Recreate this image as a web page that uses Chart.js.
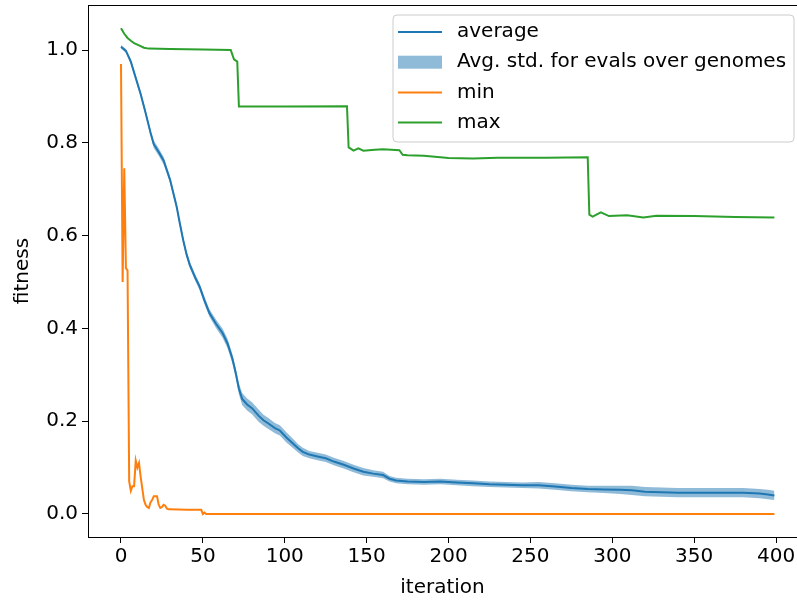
<!DOCTYPE html>
<html>
<head>
<meta charset="utf-8">
<script src="https://cdn.jsdelivr.net/npm/chart.js@4.4.1/dist/chart.umd.min.js"></script>
<style>
  html, body { margin: 0; padding: 0; background: #fff; }
</style>
</head>
<body>
<canvas id="fitness-chart" width="797" height="600"></canvas>
<script>
// average fitness and its std band
const avgIter = [0, 3, 6, 9, 12, 15, 18, 20, 23, 26, 30, 34, 36, 38, 40, 42, 45, 48, 51, 54, 58, 62, 65, 68, 70, 72, 74, 77, 80, 84, 87, 90, 94, 97, 101, 105, 108, 111, 115, 120, 125, 130, 136, 142, 148, 154, 160, 164, 168, 175, 185, 195, 205, 215, 225, 235, 245, 255, 265, 275, 285, 295, 305, 312, 320, 330, 340, 350, 360, 370, 380, 390, 395, 399];
const avgValues = [1.007, 0.998, 0.975, 0.94, 0.905, 0.865, 0.822, 0.797, 0.78, 0.762, 0.72, 0.662, 0.625, 0.59, 0.56, 0.537, 0.512, 0.49, 0.46, 0.433, 0.41, 0.39, 0.368, 0.335, 0.305, 0.27, 0.248, 0.236, 0.228, 0.212, 0.202, 0.195, 0.185, 0.18, 0.165, 0.152, 0.142, 0.134, 0.128, 0.124, 0.12, 0.113, 0.106, 0.098, 0.091, 0.087, 0.084, 0.076, 0.072, 0.07, 0.069, 0.07, 0.068, 0.066, 0.064, 0.063, 0.062, 0.062, 0.059, 0.056, 0.054, 0.053, 0.052, 0.051, 0.048, 0.047, 0.046, 0.046, 0.046, 0.046, 0.046, 0.044, 0.042, 0.04];
const avgStd = [0.004, 0.004, 0.005, 0.005, 0.006, 0.006, 0.007, 0.008, 0.008, 0.008, 0.007, 0.007, 0.007, 0.007, 0.007, 0.007, 0.007, 0.007, 0.008, 0.008, 0.009, 0.01, 0.01, 0.01, 0.01, 0.012, 0.013, 0.013, 0.013, 0.013, 0.012, 0.012, 0.011, 0.011, 0.011, 0.01, 0.009, 0.009, 0.008, 0.008, 0.008, 0.008, 0.008, 0.008, 0.008, 0.007, 0.007, 0.006, 0.006, 0.006, 0.006, 0.006, 0.006, 0.006, 0.006, 0.006, 0.006, 0.007, 0.007, 0.007, 0.007, 0.008, 0.009, 0.01, 0.01, 0.01, 0.01, 0.01, 0.01, 0.01, 0.01, 0.01, 0.01, 0.01];

// best (min) fitness
const minIter = [0, 1, 2, 3, 4, 5, 6, 7, 8, 9, 10, 11, 12, 13, 14, 15, 16, 17, 18, 19, 20, 21, 22, 23, 24, 25, 26, 27, 28, 29, 30, 40, 48, 49, 50, 51, 52, 399];
const minValues = [0.97, 0.50, 0.745, 0.53, 0.525, 0.07, 0.05, 0.06, 0.06, 0.115, 0.10, 0.11, 0.08, 0.055, 0.03, 0.02, 0.015, 0.013, 0.025, 0.03, 0.038, 0.038, 0.038, 0.02, 0.013, 0.015, 0.02, 0.018, 0.012, 0.01, 0.01, 0.009, 0.009, 0.009, 0.0, 0.003, 0.0, 0.0];

// worst (max) fitness
const maxIter = [0, 2, 4, 6, 8, 11, 14, 17, 30, 50, 67, 68, 69, 71, 72, 100, 138, 139, 140, 142, 145, 148, 155, 160, 170, 172, 175, 185, 200, 215, 230, 260, 285, 286, 288, 293, 298, 309, 319, 327, 350, 375, 399];
const maxValues = [1.047, 1.035, 1.026, 1.02, 1.015, 1.01, 1.005, 1.003, 1.002, 1.001, 1.0, 0.99, 0.98, 0.975, 0.878, 0.878, 0.879, 0.79, 0.788, 0.783, 0.788, 0.783, 0.785, 0.786, 0.784, 0.774, 0.773, 0.772, 0.767, 0.766, 0.768, 0.768, 0.769, 0.645, 0.641, 0.65, 0.642, 0.644, 0.639, 0.643, 0.642, 0.64, 0.639];

const xTicks = [0, 50, 100, 150, 200, 250, 300, 350, 400];
const yTicks = [0.0, 0.2, 0.4, 0.6, 0.8, 1.0];

const FONT = "'DejaVu Sans', sans-serif";
const FSIZE = 20;

function pts(xs, ys) {
  return xs.map((x, i) => ({ x: x, y: ys[i] }));
}

const bandUpper = pts(avgIter, avgValues.map((v, i) => v + avgStd[i]));
const bandLower = pts(avgIter, avgValues.map((v, i) => v - avgStd[i]));

// matplotlib-like legend box inside the axes
const legendBox = {
  id: "legendBox",
  afterDraw(chart) {
    const ctx = chart.ctx;
    const items = chart.data.datasets.filter(d => d.legendKind);
    items.sort((a, b) => a.legendPos - b.legendPos);
    const x0 = 393, y0 = 15, w = 401, h = 127;
    ctx.save();
    ctx.beginPath();
    ctx.roundRect(x0, y0, w, h, 4);
    ctx.fillStyle = "rgba(255,255,255,0.8)";
    ctx.fill();
    ctx.strokeStyle = "#cccccc";
    ctx.lineWidth = 1;
    ctx.stroke();
    ctx.font = FSIZE + "px " + FONT;
    ctx.textBaseline = "middle";
    items.forEach((d, i) => {
      const cy = 32 + i * 30.2;
      if (d.legendKind === "line") {
        ctx.strokeStyle = d.borderColor;
        ctx.lineWidth = 2;
        ctx.beginPath();
        ctx.moveTo(398, cy);
        ctx.lineTo(442, cy);
        ctx.stroke();
      } else {
        ctx.fillStyle = d.backgroundColor;
        ctx.fillRect(398, cy - 6.5, 44, 13);
      }
      ctx.fillStyle = "#000";
      ctx.fillText(d.label, 457, cy);
    });
    ctx.restore();
  }
};

// top/right spines
const frame = {
  id: "frame",
  afterDatasetsDraw(chart) {
    const { ctx, chartArea: a } = chart;
    ctx.save();
    ctx.strokeStyle = "#000";
    ctx.lineWidth = 1;
    ctx.strokeRect(a.left + 0.5, a.top + 0.5, a.right - a.left, a.bottom - a.top);
    ctx.restore();
  }
};

const canvas = document.getElementById("fitness-chart");

new Chart(canvas, {
  type: "line",
  data: {
    datasets: [
      { label: "max", data: pts(maxIter, maxValues), borderColor: "#2ca02c", borderWidth: 2, order: 1, legendKind: "line", legendPos: 3 },
      { label: "min", data: pts(minIter, minValues), borderColor: "#ff7f0e", borderWidth: 2, order: 2, legendKind: "line", legendPos: 2 },
      { label: "Avg. std. for evals over genomes", data: bandUpper, borderWidth: 0, borderColor: "rgba(0,0,0,0)", backgroundColor: "rgba(31,119,180,0.5)", fill: "+1", order: 4, legendKind: "rect", legendPos: 1 },
      { label: "lower", data: bandLower, borderWidth: 0, borderColor: "rgba(0,0,0,0)", fill: false, order: 4 },
      { label: "average", data: pts(avgIter, avgValues), borderColor: "#1f77b4", borderWidth: 2, order: 5, legendKind: "line", legendPos: 0 }
    ]
  },
  options: {
    responsive: false,
    animation: false,
    elements: { point: { radius: 0 }, line: { tension: 0 } },
    layout: { padding: { left: 0, right: 0, top: 5, bottom: 0 } },
    plugins: { legend: { display: false }, tooltip: { enabled: false } },
    scales: {
      x: {
        type: "linear",
        min: -20.15,
        max: 412.8,
        afterBuildTicks: s => { s.ticks = xTicks.map(v => ({ value: v })); },
        afterFit: s => { s.height = 63; s.paddingLeft = 0; s.paddingRight = 0; },
        grid: { drawOnChartArea: false, drawTicks: true, tickLength: 6, tickColor: "#000", color: "#000" },
        border: { display: true, color: "#000", width: 1 },
        ticks: { color: "#000", font: { family: FONT, size: FSIZE }, padding: 2, maxRotation: 0, autoSkip: false, callback: v => String(v) },
        title: { display: true, text: "iteration", color: "#000", font: { family: FONT, size: FSIZE }, padding: { top: 0, bottom: 0 } }
      },
      y: {
        type: "linear",
        min: -0.0496,
        max: 1.097,
        afterBuildTicks: s => { s.ticks = yTicks.map(v => ({ value: v })); },
        afterFit: s => { s.width = 88; s.paddingTop = 0; s.paddingBottom = 0; },
        grid: { drawOnChartArea: false, drawTicks: true, tickLength: 6, tickColor: "#000", color: "#000" },
        border: { display: true, color: "#000", width: 1 },
        ticks: { color: "#000", font: { family: FONT, size: FSIZE }, padding: 4, autoSkip: false, callback: v => v.toFixed(1) },
        title: { display: true, text: "fitness", color: "#000", font: { family: FONT, size: FSIZE }, padding: { top: 11, bottom: 0 } }
      }
    }
  },
  plugins: [frame, legendBox]
});
</script>
</body>
</html>
